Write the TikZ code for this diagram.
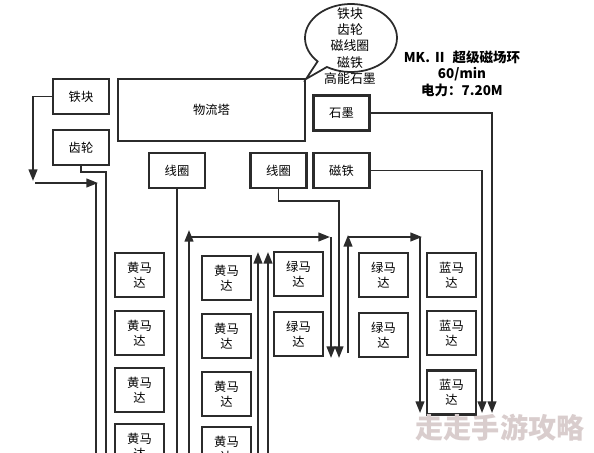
\documentclass[tikz,border=0pt]{standalone}
\usepackage{fontspec}
\setmainfont{Noto Sans CJK SC}
\usetikzlibrary{arrows.meta,shapes.callouts}
\definecolor{linegray}{HTML}{2B2B2B}
\definecolor{markgray}{HTML}{D9CDCD}

\begin{document}
\begin{tikzpicture}
[   x=0.03cm,y=-0.03cm,
    box/.style={draw=linegray,line width=1.8pt,minimum width=1.68cm,minimum height=1.05cm,inner sep=0pt,font=\fontsize{10.5}{13}\selectfont},
    motor/.style={box,minimum width=1.47cm,minimum height=1.32cm,align=center},
    wire/.style={draw=linegray,line width=1.5pt},
    arr/.style={wire,-{Triangle[length=10pt,width=7.5pt]}},
]
    \useasboundingbox (0,0) rectangle (594,452);
    %
    \node[box] (tiekuai) at (81,96.5) {铁块};
    \node[box] (chilun) at (81,147.5) {齿轮};
    \node[box,minimum width=5.61cm,minimum height=1.86cm] (tower) at (211.5,110) {物流塔};
    \node[box] (coil1) at (177,170.5) {线圈};
    \node[box] (coil2) at (278.5,170.5) {线圈};
    \node[box] (magnet) at (341.5,170.5) {磁铁};
    \node[box] (graphite) at (341.5,113) {石墨};

    \node[ellipse callout,draw=linegray,line width=1.5pt,minimum width=2.76cm,minimum height=2.04cm,
          callout absolute pointer={(306,79)}] (bubble) at (351,38) {};
    \node[font=\fontsize{11}{13.8}\selectfont,align=center] (bubbletext) at (350,46) {铁块\\齿轮\\磁线圈\\磁铁\\高能石墨};

    \node[font=\bfseries\fontsize{11.5}{14}\selectfont,align=center] (title) at (462,73.5) {MK. Ⅱ\ \ 超级磁场环\\60/min\\电力：7.20M};

    \foreach \y [count=\i] in {275,333,390,446}
    {   
        \node[motor] (ya-\i) at (139.5,\y) {黄马\\达};
    }
    \foreach \y [count=\i] in {278,336,394,449}
    {   
        \node[motor] (yb-\i) at (226.5,\y) {黄马\\达};
    }
    \foreach \y [count=\i] in {274,334}
    {   
        \node[motor] (ga-\i) at (298.5,\y) {绿马\\达};
    }
    \foreach \y [count=\i] in {275,335}
    {   
        \node[motor] (gb-\i) at (383.5,\y) {绿马\\达};
    }
    \foreach \y [count=\i] in {275,333,392.5}
    {   
        \node[motor] (bl-\i) at (451.5,\y) {蓝马\\达};
    }

    \coordinate (bot) at (0,460);
    % left side
    \coordinate (l-drop) at (33,181);
    \coordinate (l-in) at (35,183);
    \coordinate (l-hit) at (98,183);
    \coordinate (l-top) at (96,183);
    \coordinate (g-turn) at (106,172);
    \draw[arr] (tiekuai.west) -| (l-drop);
    \draw[arr] (l-in) -- (l-hit);
    \draw[wire] (l-top) -- (l-top |- bot);
    \draw[wire] (chilun.south) |- (g-turn) -- (g-turn |- bot);

    % middle
    \coordinate (m-up) at (189,230);
    \coordinate (m-corner) at (189,237);
    \coordinate (m-hit) at (330,237);
    \coordinate (m-top) at (331,237);
    \coordinate (m-end) at (331,358);
    \draw[wire] (coil1.south) -- (coil1.south |- bot);
    \draw[arr] (m-up |- bot) -- (m-up);
    \draw[arr] (m-corner) -- (m-hit);
    \draw[arr] (m-top) -- (m-end);
    \foreach \x in {258,268}
    {
        \coordinate (u-\x) at (\x,252);
        \draw[arr] (u-\x |- bot) -- (u-\x);
    }
    \coordinate (c-turn) at (339,201);
    \coordinate (c-end) at (339,358);
    \draw[arr] (coil2.south) |- (c-turn) -- (c-end);

    % right side
    \coordinate (r-start) at (348,353);
    \coordinate (r-up) at (348,235);
    \coordinate (r-corner) at (348,237);
    \coordinate (r-hit) at (422,237);
    \coordinate (r-top) at (420,237);
    \coordinate (r-end) at (420,413);
    \draw[arr] (r-start) -- (r-up);
    \draw[arr] (r-corner) -- (r-hit);
    \draw[arr] (r-top) -- (r-end);
    \coordinate (mag-turn) at (482,170.5);
    \coordinate (mag-end) at (482,413);
    \draw[arr] (magnet.east) -- (mag-turn) -- (mag-end);
    \coordinate (gr-turn) at (492,113);
    \coordinate (gr-end) at (492,413);
    \draw[arr] (graphite.east) -- (gr-turn) -- (gr-end);

    \node[font=\bfseries\fontsize{24}{24}\selectfont,text=markgray] (mark) at (500,428) {走走手游攻略};
\end{tikzpicture}
\end{document}
